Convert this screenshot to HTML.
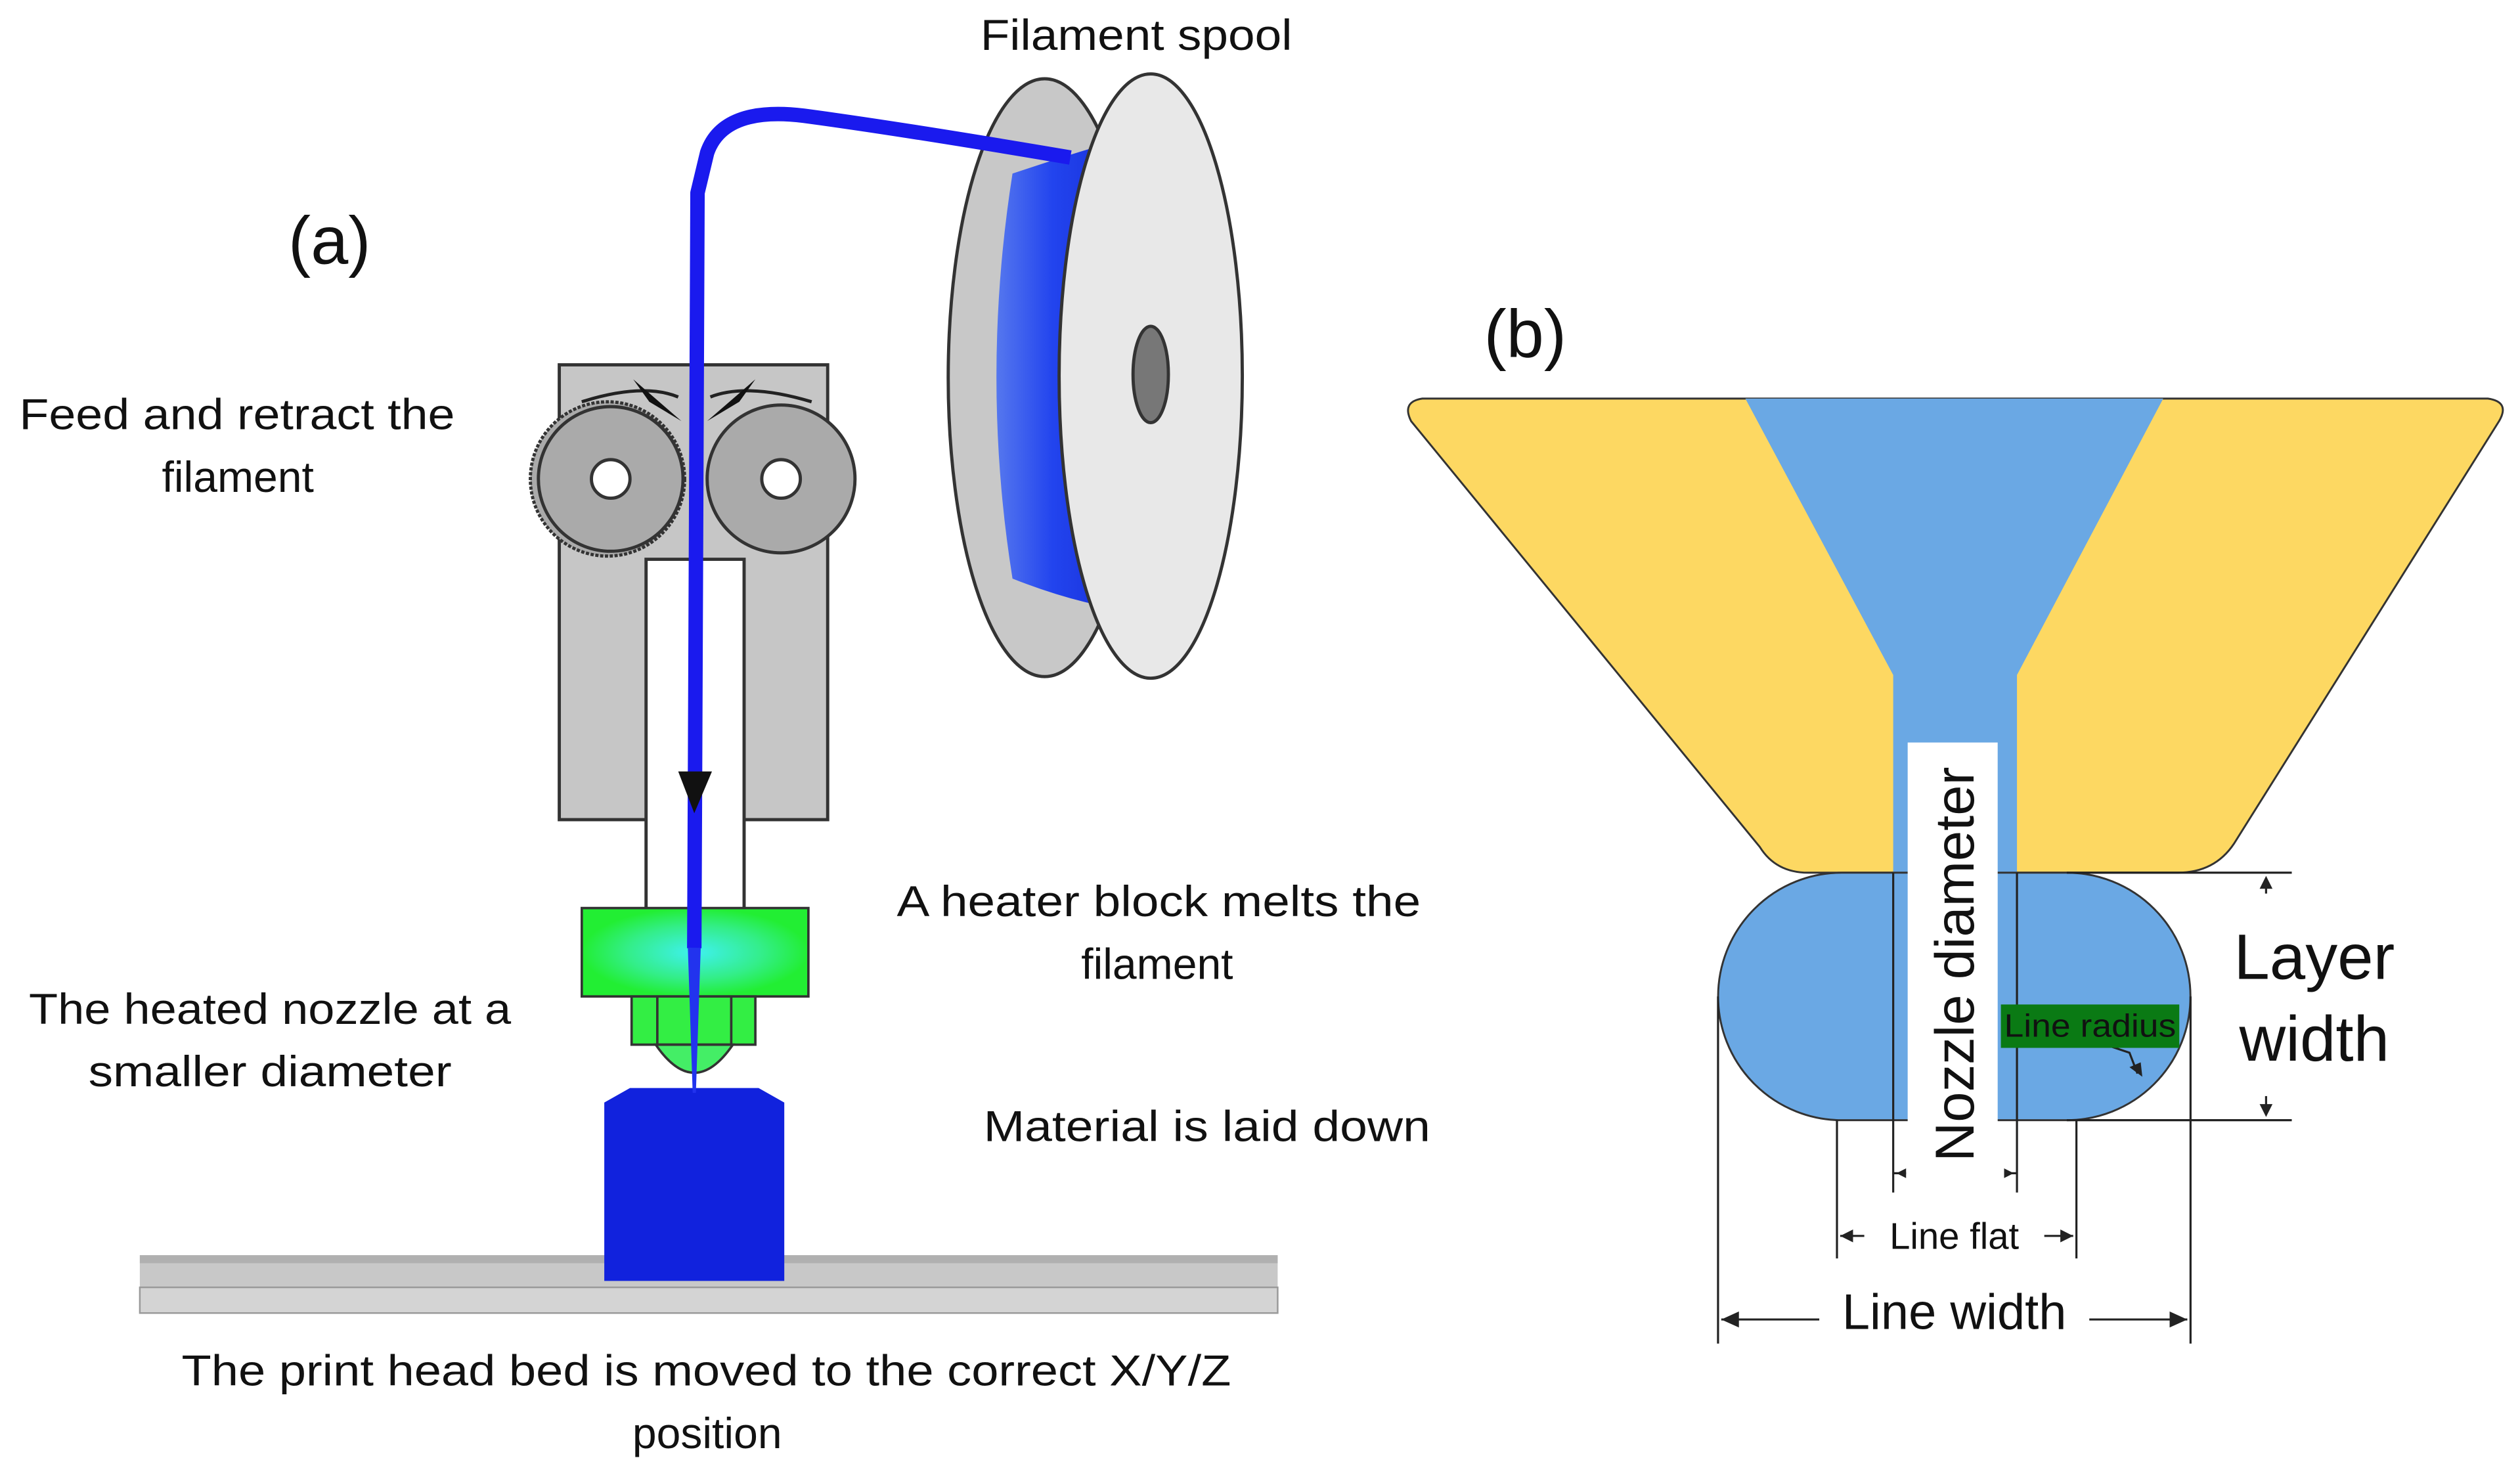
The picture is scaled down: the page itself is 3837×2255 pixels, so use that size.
<!DOCTYPE html>
<html><head><meta charset="utf-8"><style>
html,body{margin:0;padding:0;background:#fff;}
svg{display:block;}
text{font-family:"Liberation Sans","DejaVu Sans",sans-serif;fill:#111;}
</style></head><body>
<svg width="3837" height="2255" viewBox="0 0 1568 921.5" preserveAspectRatio="none" xmlns="http://www.w3.org/2000/svg">
<defs>
<radialGradient id="hg" cx="0.5" cy="0.5" r="0.5">
<stop offset="0" stop-color="#3ff0f0"/><stop offset="0.6" stop-color="#33ee88"/><stop offset="1" stop-color="#22ee33"/>
</radialGradient>
<linearGradient id="sp" x1="0" x2="1">
<stop offset="0" stop-color="#5577ee"/><stop offset="0.5" stop-color="#2244ee"/><stop offset="1" stop-color="#1a33dd"/>
</linearGradient>
</defs>
<rect width="1568" height="921.5" fill="#fff"/>

<!-- (a) texts -->
<text x="610" y="31" font-size="27" textLength="194" lengthAdjust="spacingAndGlyphs">Filament spool</text>
<text x="205" y="164" font-size="42" text-anchor="middle">(a)</text>
<text x="12" y="267" font-size="27" textLength="271" lengthAdjust="spacingAndGlyphs">Feed and retract the</text>
<text x="148" y="306" font-size="27" text-anchor="middle">filament</text>
<text x="558" y="570" font-size="27" textLength="326" lengthAdjust="spacingAndGlyphs">A heater block melts the</text>
<text x="720" y="609" font-size="27" text-anchor="middle">filament</text>
<text x="18" y="637" font-size="27" textLength="300" lengthAdjust="spacingAndGlyphs">The heated nozzle at a</text>
<text x="55" y="676" font-size="27" textLength="226" lengthAdjust="spacingAndGlyphs">smaller diameter</text>
<text x="612" y="710" font-size="27" textLength="278" lengthAdjust="spacingAndGlyphs">Material is laid down</text>
<text x="113" y="862" font-size="27" textLength="653" lengthAdjust="spacingAndGlyphs">The print head bed is moved to the correct X/Y/Z</text>
<text x="440" y="901" font-size="27" text-anchor="middle">position</text>

<!-- spool -->
<ellipse cx="650" cy="235" rx="60" ry="186" fill="#c8c8c8" stroke="#333" stroke-width="2"/>
<path d="M630 108 Q660 98 680 92 L690 378 Q660 372 630 360 Q610 235 630 108 Z" fill="url(#sp)"/>
<ellipse cx="716" cy="234" rx="57" ry="188" fill="#e8e8e8" stroke="#333" stroke-width="2"/>
<ellipse cx="716" cy="233" rx="11" ry="30" fill="#777" stroke="#333" stroke-width="2"/>

<!-- extruder body -->
<rect x="348" y="227" width="167" height="283" fill="#c6c6c6" stroke="#333" stroke-width="2"/>
<rect x="402" y="348" width="61" height="218" fill="#fff" stroke="#333" stroke-width="2"/>
<path d="M362 250 Q400 238 422 247" fill="none" stroke="#222" stroke-width="2"/>
<path d="M505 250 Q465 238 442 247" fill="none" stroke="#222" stroke-width="2"/>
<path d="M394 236 L424 262 L404 250 Z" fill="#111"/>
<path d="M470 236 L440 262 L460 250 Z" fill="#111"/>
<circle cx="378" cy="298" r="48" fill="#aaa" stroke="#333" stroke-width="2" stroke-dasharray="2 1"/>
<circle cx="380" cy="298" r="45" fill="#aaa" stroke="#333" stroke-width="2"/>
<circle cx="380" cy="298" r="12" fill="#fff" stroke="#333" stroke-width="2"/>
<circle cx="486" cy="298" r="46" fill="#aaa" stroke="#333" stroke-width="2"/>
<circle cx="486" cy="298" r="12" fill="#fff" stroke="#333" stroke-width="2"/>

<!-- heater -->
<rect x="362" y="565" width="141" height="55" fill="url(#hg)" stroke="#333" stroke-width="1.5"/>
<rect x="393" y="620" width="77" height="30" fill="#33ee44" stroke="#333" stroke-width="1.5"/>
<line x1="409" y1="620" x2="409" y2="650" stroke="#333" stroke-width="1.5"/>
<line x1="455" y1="620" x2="455" y2="650" stroke="#333" stroke-width="1.5"/>
<path d="M408 650 Q432 685 456 650 Z" fill="#44ee66" stroke="#333" stroke-width="1.5"/>

<!-- bed and part -->
<rect x="87" y="781" width="708" height="36" fill="#c8c8c8"/>
<rect x="87" y="781" width="708" height="5" fill="#b0b0b0"/>
<rect x="87" y="801" width="708" height="16" fill="#d4d4d4" stroke="#999"/>
<path d="M376 686 L392 677 L472 677 L488 686 L488 797 L376 797 Z" fill="#1122dd"/>

<!-- filament -->
<path d="M666 98 Q560 80 500 72 Q450 66 440 95 L434 120 L432 590" fill="none" stroke="#1a1aee" stroke-width="9" stroke-linejoin="round"/>
<path d="M428 590 L436 590 L433 680 L431 680 Z" fill="#2233ee"/>
<path d="M422 480 L443 480 L432 506 Z" fill="#111"/>

<!-- (b) -->
<text x="949" y="222" font-size="42" text-anchor="middle">(b)</text>
<path d="M885 248 L1548 248 Q1562 250 1555 262 L1390 525 Q1378 543 1355 543 L1125 543 Q1105 543 1095 527 L878 262 Q872 250 885 248 Z" fill="#fdd862" stroke="#333" stroke-width="1.2"/>
<path d="M1086 248 L1346 248 L1255 420 L1255 543 L1178 543 L1178 420 Z" fill="#6aa8e4"/>
<path d="M1146 543 L1286 543 A77 77 0 0 1 1286 697 L1146 697 A77 77 0 0 1 1146 543 Z" fill="#6aa8e4" stroke="#333" stroke-width="1.2"/>
<rect x="1187" y="462" width="56" height="236" fill="#fff"/>
<g stroke="#222" stroke-width="1.3" fill="none">
<line x1="1178" y1="543" x2="1178" y2="742"/>
<line x1="1255" y1="543" x2="1255" y2="742"/>
<line x1="1143" y1="697" x2="1143" y2="783"/>
<line x1="1292" y1="697" x2="1292" y2="783"/>
<line x1="1069" y1="620" x2="1069" y2="836"/>
<line x1="1363" y1="620" x2="1363" y2="836"/>
<line x1="1286" y1="543" x2="1426" y2="543"/>
<line x1="1286" y1="697" x2="1426" y2="697"/>
<line x1="1410" y1="548" x2="1410" y2="556"/>
<line x1="1410" y1="682" x2="1410" y2="692"/>
<line x1="1145" y1="769" x2="1160" y2="769"/>
<line x1="1272" y1="769" x2="1290" y2="769"/>
<line x1="1071" y1="821" x2="1132" y2="821"/>
<line x1="1300" y1="821" x2="1361" y2="821"/>
<line x1="1178" y1="730" x2="1186" y2="730"/>
<line x1="1247" y1="730" x2="1255" y2="730"/>
<path d="M1310 650 L1325 655 L1330 668"/>
</g>
<g fill="#222">
<path d="M1410 545 L1406 553 L1414 553 Z"/>
<path d="M1410 695 L1406 687 L1414 687 Z"/>
<path d="M1145 769 L1153 765 L1153 773 Z"/>
<path d="M1290 769 L1282 765 L1282 773 Z"/>
<path d="M1071 821 L1082 816 L1082 826 Z"/>
<path d="M1361 821 L1350 816 L1350 826 Z"/>
<path d="M1180 730 L1186 727 L1186 733 Z"/>
<path d="M1253 730 L1247 727 L1247 733 Z"/>
<path d="M1333 670 L1325 664 L1332 661 Z"/>
</g>
<rect x="1245" y="625" width="111" height="27" fill="#0a7a14"/>
<text x="1247" y="645" font-size="20" textLength="107" lengthAdjust="spacingAndGlyphs">Line radius</text>
<text transform="translate(1228 600) rotate(-90)" font-size="34" text-anchor="middle">Nozzle diameter</text>
<text x="1440" y="609" font-size="40" text-anchor="middle">Layer</text>
<text x="1440" y="660" font-size="40" text-anchor="middle">width</text>
<text x="1216" y="777" font-size="23" text-anchor="middle">Line flat</text>
<text x="1216" y="827" font-size="31" text-anchor="middle">Line width</text>
</svg>
</body></html>
